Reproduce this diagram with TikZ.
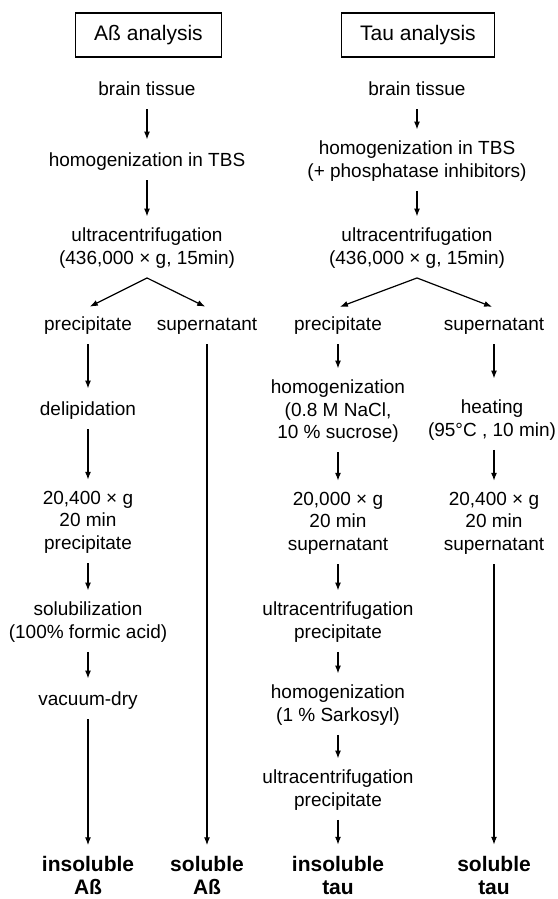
\documentclass[tikz,border=0pt]{standalone}
\usepackage{fontspec}
\setmainfont{Liberation Sans}
\usetikzlibrary{arrows.meta}
\begin{document}
\begin{tikzpicture}[x=1pt,y=-1pt,
  txt/.style={align=center, inner sep=7pt, font=\fontsize{19}{22.5}\selectfont,
    execute at begin node=\strut, execute at end node=\strut},
  bold/.style={align=center, inner sep=7pt, font=\fontsize{21}{23}\selectfont\bfseries,
    execute at begin node=\strut, execute at end node=\strut},
  headbox/.style={draw, line width=1.3pt, minimum height=44pt, inner xsep=19pt,
    font=\fontsize{21}{25}\selectfont},
  arr/.style={line width=1.2pt, -{Latex[length=8pt,width=6pt]}, shorten >=4pt},
  slant/.style={line width=1.2pt, -{Latex[length=8pt,width=6pt]}, shorten >=2pt}
]
\fill[white] (0,0) rectangle (557,899);
\useasboundingbox (0,0) rectangle (557,899);

% ---------- A-beta analysis ----------
\node[headbox] (boxA) at (148.5,35) {Aß analysis};
\node[txt] (bt1) at (147,91) {brain tissue};
\node[txt] (h1) at (147,162) {homogenization in TBS};
\node[txt] (u1) at (147,249.25) {ultracentrifugation\\(436,000 × g, 15min)};
\node[txt] (p1) at (88,326) {precipitate};
\node[txt] (s1) at (207,326) {supernatant};
\node[txt] (d1) at (88,411) {delipidation};
\node[txt] (c1) at (88,523.5) {20,400 × g\\20 min\\precipitate};
\node[txt] (so1) at (88,623.25) {solubilization\\(100\% formic acid)};
\node[txt] (v1) at (88,701) {vacuum-dry};
\node[bold] (i1) at (88,879) {insoluble\\Aß};
\node[bold] (sa) at (207,879) {soluble\\Aß};

\draw[arr] (bt1) -- (h1);
\draw[arr] (h1) -- (u1);
\draw[slant] (u1.south) -- (p1.north);
\draw[slant] (u1.south) -- (s1.north);
\draw[arr] (p1) -- (d1);
\draw[arr] (d1) -- (c1);
\draw[arr] (c1) -- (so1);
\draw[arr] (so1) -- (v1);
\draw[arr] (v1) -- (i1);
\draw[arr] (s1) -- (sa);

% ---------- Tau analysis ----------
\node[headbox] (boxT) at (418,35) {Tau analysis};
\node[txt] (bt2) at (417,91) {brain tissue};
\node[txt] (h2) at (417,162.25) {homogenization in TBS\\(+ phosphatase inhibitors)};
\node[txt] (u2) at (417,249.25) {ultracentrifugation\\(436,000 × g, 15min)};
\node[txt] (p2) at (338,326) {precipitate};
\node[txt] (s2) at (494,326) {supernatant};
\node[txt] (hm2) at (338,412.5) {homogenization\\(0.8 M NaCl,\\10 \% sucrose)};
\node[txt] (c2) at (338,524.5) {20,000 × g\\20 min\\supernatant};
\node[txt] (uc2) at (338,623.25) {ultracentrifugation\\precipitate};
\node[txt] (hs2) at (338,706.25) {homogenization\\(1 \% Sarkosyl)};
\node[txt] (uc3) at (338,791.25) {ultracentrifugation\\precipitate};
\node[bold] (i2) at (338,878.5) {insoluble\\tau};
\node[txt] (he2) at (492,421.25) {heating\\(95°C , 10 min)};
\node[txt] (c3) at (494,524.5) {20,400 × g\\20 min\\supernatant};
\node[bold] (st) at (494,878.5) {soluble\\tau};

\draw[arr] (bt2) -- (h2);
\draw[arr] (h2) -- (u2);
\draw[slant] (u2.south) -- (p2.north);
\draw[slant] (u2.south) -- (s2.north);
\draw[arr] (p2) -- (hm2);
\draw[arr] (hm2) -- (c2);
\draw[arr] (c2) -- (uc2);
\draw[arr] (uc2) -- (hs2);
\draw[arr] (hs2) -- (uc3);
\draw[arr] (uc3) -- (i2);
\draw[arr, shorten >=14pt] (s2) -- (s2 |- he2.north);
\draw[arr] (he2.south -| c3) -- (c3);
\draw[arr] (c3) -- (st);
\end{tikzpicture}
\end{document}
